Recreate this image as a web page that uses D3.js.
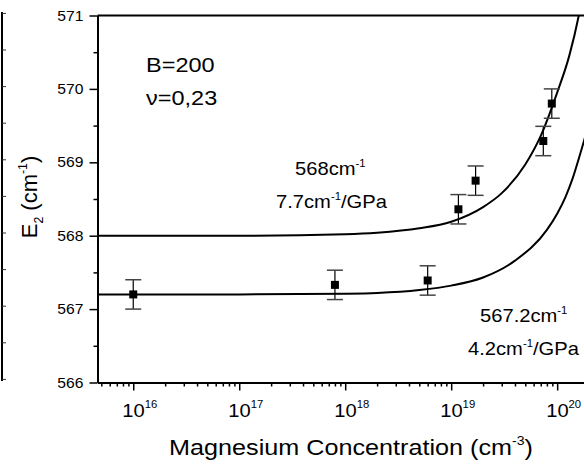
<!DOCTYPE html>
<html>
<head>
<meta charset="utf-8">
<script src="https://cdn.jsdelivr.net/npm/d3@7"></script>
<style>
	body { margin: 0; background: #fff; }
	svg { display: block; font-family: 'Liberation Sans', Arial, sans-serif; }
</style>
</head>
<body>
<script>
// measured points (Mg concentration in cm^-3, E2 in cm^-1)
let concentration = 	[1e16, 8e17, 6e18, 1.17e19, 1.7e19, 7.4e19, 8.9e19]
let e2Shift = 		[567.2, 567.33, 567.39, 568.36, 568.75, 569.29, 569.80]
let e2Error = 		[0.2, 0.2, 0.2, 0.2, 0.2, 0.2, 0.2]

// fitted curves
let fitHighN = 	[4.6e15, 1e17, 1e18, 2e18, 5e18, 1e19, 2e19, 3e19, 5e19, 7e19, 1e20, 1.3e20, 1.6e20, 1.8e20]
let fitHighE = 	[568.0, 568.0, 568.02, 568.04, 568.1, 568.19, 568.39, 568.58, 568.97, 569.36, 569.95, 570.45, 571.0, 571.4]
let fitLowN = 	[4.6e15, 1e17, 1e18, 2e18, 5e18, 1e19, 2e19, 4e19, 8e19, 1e20, 1.2e20, 1.4e20, 1.6e20, 2e20, 2.3e20]
let fitLowE = 	[567.2, 567.2, 567.21, 567.22, 567.26, 567.32, 567.43, 567.66, 568.08, 568.3, 568.53, 568.78, 569.05, 569.55, 569.95]

let yTicks = 	[566, 567, 568, 569, 570, 571]
let xDecades = 	[16, 17, 18, 19, 20]

let W = 584, H = 464
let sx = 1.12	// text in the picture is a bit wider than the font

let svg = d3.select('body').append('svg').attr('width', W).attr('height', H)

let x = d3.scaleLog().domain([4.6e15, 2.3e20]).range([97.5, 595.5])
let y = d3.scaleLinear().domain([566, 571]).range([382.5, 15.5])

// stray axis from the neighbouring panel at the far left
svg.append('line')
	.attr('x1', 2).attr('x2', 2).attr('y1', 12).attr('y2', 381)
	.attr('stroke', 'black').attr('stroke-width', 2)
d3.range(0, 11).forEach(k => {
	svg.append('line')
		.attr('x1', 2).attr('x2', 6)
		.attr('y1', 13.4 + k*36.6).attr('y2', 13.4 + k*36.6)
		.attr('stroke', '#333').attr('stroke-width', 1)
})

// text helper, parts: {t, sup, sub}
let addText = function(g, px, py, parts, size, anchor='start', stretch=sx, rot=0) {
	let t = g.append('text')
		.attr('transform', `translate(${px},${py}) rotate(${rot}) scale(${stretch},1)`)
		.attr('font-size', size).attr('text-anchor', anchor).attr('fill', 'black')
	let shift = 0
	parts.forEach(p => {
		let target = p.sup ? -size*0.45 : (p.sub ? size*0.25 : 0)
		t.append('tspan')
			.attr('dy', target - shift)
			.attr('font-size', (p.sup || p.sub) ? size*0.56 : size)
			.text(p.t)
		shift = target
	})
	return t
}

// clip for curves
svg.append('clipPath').attr('id', 'plotClip').append('rect')
	.attr('x', 97.5).attr('y', 15.5).attr('width', 500).attr('height', 367)

// fitted curves
let line = d3.line().x(d => x(d[0])).y(d => y(d[1])).curve(d3.curveMonotoneX)
let curves = [d3.zip(fitHighN, fitHighE), d3.zip(fitLowN, fitLowE)]
svg.append('g').attr('clip-path', 'url(#plotClip)')
	.selectAll('path').data(curves).join('path')
	.attr('d', line)
	.attr('fill', 'none').attr('stroke', 'black').attr('stroke-width', 2)

// error bars + markers
let pts = d3.range(concentration.length).map(i => ({n: concentration[i], e: e2Shift[i], err: e2Error[i]}))
let pg = svg.append('g')
pts.forEach(d => {
	let cx = x(d.n)
	pg.append('line')
		.attr('x1', cx).attr('x2', cx)
		.attr('y1', y(d.e + d.err)).attr('y2', y(d.e - d.err))
		.attr('stroke', 'black').attr('stroke-width', 1.2)
	;[d.e + d.err, d.e - d.err].forEach(v => {
		pg.append('line')
			.attr('x1', cx - 8).attr('x2', cx + 8)
			.attr('y1', y(v)).attr('y2', y(v))
			.attr('stroke', '#444').attr('stroke-width', 1.5)
	})
	pg.append('rect')
		.attr('x', cx - 4).attr('y', y(d.e) - 4)
		.attr('width', 8).attr('height', 8).attr('fill', 'black')
})

// y axis
let yAxis = svg.append('g').attr('transform', 'translate(97.5,0)')
	.call(d3.axisLeft(y).tickValues(yTicks).tickSize(8).tickSizeOuter(0).tickFormat(''))
yAxis.append('g')
	.call(d3.axisLeft(y).tickValues(d3.range(566.5, 571, 1)).tickSize(4).tickFormat(''))
	.select('.domain').remove()
yAxis.selectAll('.domain').attr('stroke-width', 2)
yAxis.selectAll('.tick line').attr('stroke-width', 1.5)
yTicks.forEach(v => addText(svg, 83.5, y(v) + 5, [{t: String(v)}], 14, 'end'))

// x axis
let minorX = []
d3.range(15, 21).forEach(p => d3.range(2, 10).forEach(m => {
	let v = m * Math.pow(10, p)
	if (v > 4.6e15 && v < 2.3e20) minorX.push(v)
}))
let xAxis = svg.append('g').attr('transform', 'translate(0,382.5)')
	.call(d3.axisBottom(x).tickValues(xDecades.map(p => Math.pow(10, p))).tickSize(8).tickSizeOuter(0).tickFormat(''))
xAxis.append('g')
	.call(d3.axisBottom(x).tickValues(minorX).tickSize(4).tickFormat(''))
	.select('.domain').remove()
xAxis.selectAll('.domain').attr('stroke-width', 2)
xAxis.selectAll('.tick line').attr('stroke-width', 1.5)
xDecades.forEach(p => {
	addText(svg, x(Math.pow(10, p)) - 11, 416.5, [{t: '10'}, {t: String(p), sup: true}], 18, 'start')
})

// top frame line
svg.append('line')
	.attr('x1', 97.5).attr('x2', W).attr('y1', 15.5).attr('y2', 15.5)
	.attr('stroke', 'black').attr('stroke-width', 2)

// axis titles
addText(svg, 351, 455, [{t: 'Magnesium Concentration (cm'}, {t: '-3', sup: true}, {t: ')'}], 22.5, 'middle')
addText(svg, 37, 197, [{t: 'E'}, {t: '2', sub: true}, {t: ' (cm'}, {t: '-1', sup: true}, {t: ')'}], 22, 'middle', 1, -90)

// annotations
addText(svg, 146, 72, [{t: 'B=200'}], 21)
addText(svg, 146, 105, [{t: '\u03bd=0,23'}], 21)
addText(svg, 295, 175, [{t: '568cm'}, {t: '-1', sup: true}], 18)
addText(svg, 276, 208, [{t: '7.7cm'}, {t: '-1', sup: true}, {t: '/GPa'}], 18)
addText(svg, 480, 322, [{t: '567.2cm'}, {t: '-1', sup: true}], 18)
addText(svg, 468, 355, [{t: '4.2cm'}, {t: '-1', sup: true}, {t: '/GPa'}], 18)
</script>
</body>
</html>
